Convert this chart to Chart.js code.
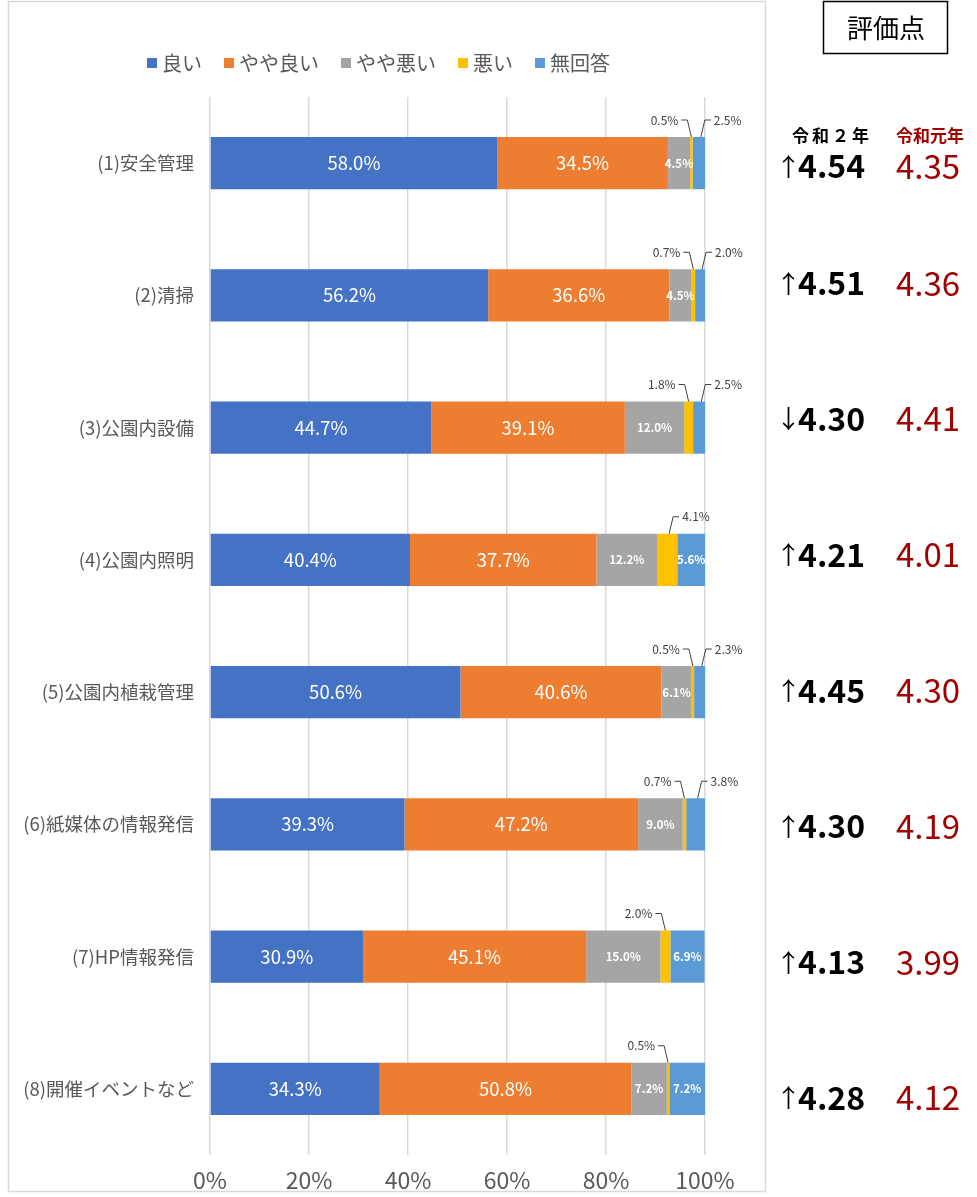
<!DOCTYPE html>
<html>
<head>
<meta charset="utf-8">
<script src="https://cdn.jsdelivr.net/npm/chart.js@4/dist/chart.umd.min.js"></script>
<style>
  body { margin: 0; background: #fff; }
  canvas { display: block; }
</style>
</head>
<body>
<canvas id="chart" width="977" height="1197"></canvas>
<script>
/* ===== Data ===== */
const categories = ['(1)安全管理', '(2)清掃', '(3)公園内設備', '(4)公園内照明',
  '(5)公園内植栽管理', '(6)紙媒体の情報発信', '(7)HP情報発信', '(8)開催イベントなど'];

const seriesNames = ['良い', 'やや良い', 'やや悪い', '悪い', '無回答'];
const good       = [58.0, 56.2, 44.7, 40.4, 50.6, 39.3, 30.9, 34.3];
const fairlyGood = [34.5, 36.6, 39.1, 37.7, 40.6, 47.2, 45.1, 50.8];
const fairlyBad  = [4.5, 4.5, 12.0, 12.2, 6.1, 9.0, 15.0, 7.2];
const bad        = [0.5, 0.7, 1.8, 4.1, 0.5, 0.7, 2.0, 0.5];
const noAnswer   = [2.5, 2.0, 2.5, 5.6, 2.3, 3.8, 6.9, 7.2];

const xTicks = [0, 20, 40, 60, 80, 100];

const scoreR2 = [4.54, 4.51, 4.30, 4.21, 4.45, 4.30, 4.13, 4.28];
const scoreR1 = [4.35, 4.36, 4.41, 4.01, 4.30, 4.19, 3.99, 4.12];

/* ===== Styles ===== */
const colors = ['#4472C4', '#ED7D31', '#A5A5A5', '#FFC000', '#5B9BD5'];
const FONT = "'Noto Sans CJK JP', 'Noto Sans', sans-serif";
const GRAY = '#595959';
const DARK_RED = '#A00000';

Chart.defaults.font.family = FONT;
Chart.defaults.color = GRAY;

/* ===== Plugins ===== */
const frame = {
  id: 'frame',
  beforeDraw(chart) {
    const ctx = chart.ctx;
    ctx.save();
    ctx.strokeStyle = '#d9d9d9';
    ctx.lineWidth = 1.5;
    ctx.strokeRect(8.5, 1.5, 757, 1190);
    ctx.restore();
  }
};

const legendDraw = {
  id: 'legendDraw',
  afterDraw(chart) {
    const ctx = chart.ctx;
    ctx.save();
    ctx.font = '20px ' + FONT;
    ctx.textBaseline = 'middle';
    let x = 147;
    const y = 63;
    seriesNames.forEach((name, i) => {
      ctx.fillStyle = colors[i];
      ctx.fillRect(x, y - 5, 10, 10);
      ctx.fillStyle = GRAY;
      ctx.textAlign = 'left';
      ctx.fillText(name, x + 15, y);
      x += 15 + ctx.measureText(name).width + 22;
    });
    ctx.restore();
  }
};

function leaderLabel(ctx, text, cx, top, side) {
  const ty = top - 17;
  ctx.strokeStyle = '#404040';
  ctx.lineWidth = 1;
  ctx.beginPath();
  if (side === 'left') {
    ctx.moveTo(cx - 10, ty);
    ctx.lineTo(cx - 4, ty);
    ctx.lineTo(cx, top);
  } else {
    ctx.moveTo(cx + 2, top);
    ctx.lineTo(cx + 6, ty);
    ctx.lineTo(cx + 12, ty);
  }
  ctx.stroke();
  ctx.fillStyle = '#404040';
  ctx.font = '12px ' + FONT;
  ctx.textBaseline = 'middle';
  ctx.textAlign = side === 'left' ? 'right' : 'left';
  ctx.fillText(text, side === 'left' ? cx - 13 : cx + 15, ty);
}

const barLabels = {
  id: 'barLabels',
  afterDatasetsDraw(chart) {
    const ctx = chart.ctx;
    ctx.save();
    chart.data.datasets.forEach((ds, di) => {
      const meta = chart.getDatasetMeta(di);
      meta.data.forEach((bar, i) => {
        const v = ds.data[i];
        const text = v.toFixed(1) + '%';
        const cx = (bar.x + bar.base) / 2;
        const top = bar.y - bar.height / 2;
        if (di <= 1) {
          ctx.fillStyle = '#fff';
          ctx.font = '18.5px ' + FONT;
          ctx.textAlign = 'center';
          ctx.textBaseline = 'middle';
          ctx.fillText(text, cx, bar.y);
        } else if (di === 2 || (di === 4 && v >= 5)) {
          ctx.fillStyle = '#fff';
          ctx.font = 'bold 11.5px ' + FONT;
          ctx.textAlign = 'center';
          ctx.textBaseline = 'middle';
          ctx.fillText(text, cx, bar.y);
        } else if (di === 3) {
          leaderLabel(ctx, text, cx, top, v >= 3 ? 'right' : 'left');
        } else {
          leaderLabel(ctx, text, cx, top, 'right');
        }
      });
    });
    ctx.restore();
  }
};

const scorePanel = {
  id: 'scorePanel',
  afterDraw(chart) {
    const ctx = chart.ctx;
    ctx.save();
    // title box
    ctx.strokeStyle = '#000';
    ctx.lineWidth = 1.5;
    ctx.strokeRect(823.5, 1.5, 124, 52);
    ctx.fillStyle = '#000';
    ctx.font = '26px ' + FONT;
    ctx.textAlign = 'center';
    ctx.textBaseline = 'middle';
    ctx.fillText('評価点', 886, 28);

    // column headers
    ctx.font = 'bold 17px ' + FONT;
    ctx.letterSpacing = '3px';
    ctx.fillText('令和２年', 832, 136);
    ctx.letterSpacing = '0px';
    ctx.fillStyle = DARK_RED;
    ctx.fillText('令和元年', 930, 136);

    scoreR2.forEach((s, i) => {
      const y = i === 0 ? 166 : 283 + (i - 1) * 135.8;
      ctx.fillStyle = '#000';
      ctx.textAlign = 'left';
      ctx.font = '25px ' + FONT;
      ctx.fillText(s >= scoreR1[i] ? '↑' : '↓', 776, y);
      ctx.font = 'bold 32px ' + FONT;
      ctx.fillText(s.toFixed(2), 798, y);
      ctx.fillStyle = DARK_RED;
      ctx.textAlign = 'center';
      ctx.font = '33px ' + FONT;
      ctx.fillText(scoreR1[i].toFixed(2), 928, y);
    });
    ctx.restore();
  }
};

/* ===== Chart ===== */
const seriesData = [good, fairlyGood, fairlyBad, bad, noAnswer];

new Chart(document.getElementById('chart'), {
  type: 'bar',
  data: {
    labels: categories,
    datasets: seriesNames.map((name, i) => ({
      label: name,
      data: seriesData[i],
      backgroundColor: colors[i],
      borderWidth: 0,
      barPercentage: 0.395,
      categoryPercentage: 1
    }))
  },
  options: {
    indexAxis: 'y',
    responsive: false,
    animation: false,
    devicePixelRatio: 1,
    layout: { padding: { left: 8, top: 97, right: 272, bottom: 0 } },
    plugins: {
      legend: { display: false },
      tooltip: { enabled: false }
    },
    scales: {
      x: {
        stacked: true,
        min: 0,
        max: 100,
        afterBuildTicks(scale) {
          scale.ticks = xTicks.map(v => ({ value: v }));
        },
        afterFit(scale) { scale.height = 42; },
        grid: { color: '#d9d9d9', lineWidth: 1.5, drawTicks: false },
        border: { display: false },
        ticks: {
          padding: 11,
          color: GRAY,
          font: { size: 23 },
          callback: v => v + '%'
        }
      },
      y: {
        stacked: true,
        afterFit(scale) { scale.width = 202; },
        grid: { display: false, drawTicks: false },
        border: { display: false },
        ticks: {
          padding: 16,
          color: GRAY,
          font: { size: 18.5 }
        }
      }
    }
  },
  plugins: [frame, legendDraw, barLabels, scorePanel]
});
</script>
</body>
</html>
